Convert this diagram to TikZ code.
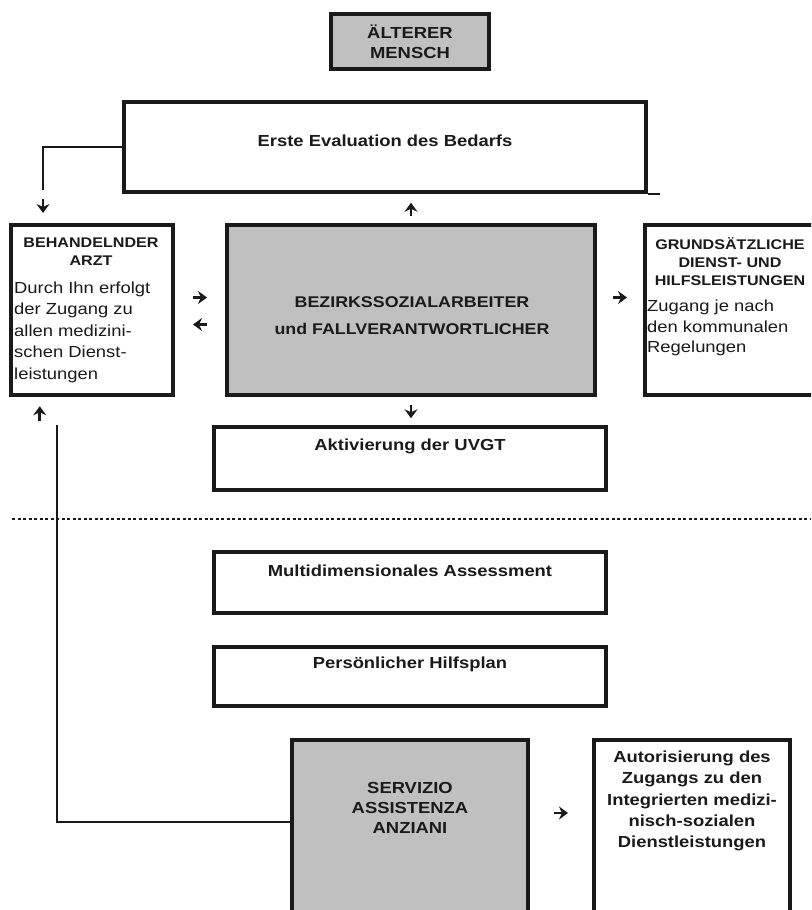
\documentclass[tikz,border=0pt]{standalone}
\usepackage{fontspec}
\setmainfont[FakeStretch=1.15]{Liberation Sans}
\usetikzlibrary{arrows.meta,calc}

\definecolor{boxgrey}{HTML}{C0C0C0}
\definecolor{ink}{HTML}{1A1A1A}

\tikzset{
  box/.style={draw=ink, line width=4.5pt, inner sep=0pt},
  shaded/.style={box, fill=boxgrey},
  head/.style={inner sep=0pt, align=center, text=ink, font=\bfseries\fontsize{16}{20}\selectfont},
  smallhead/.style={inner sep=0pt, align=center, text=ink, font=\bfseries\fontsize{14}{18}\selectfont},
  centrehead/.style={inner sep=0pt, align=center, text=ink, font=\bfseries\fontsize{15.5}{27}\selectfont},
  body/.style={inner sep=0pt, align=left, text=ink, font=\fontsize{16}{21.5}\selectfont},
  link/.style={draw=ink, line width=1.6pt},
  pointer/.style={draw=ink, line width=2.8pt, -{Stealth[length=9pt,width=13pt,inset=3pt]}},
  divider/.style={draw=ink, line width=1.3pt, dash pattern=on 3pt off 2.5pt}
}

\begin{document}
\begin{tikzpicture}[x=1pt,y=-1pt]
  \useasboundingbox (0,0) rectangle (811,910);
  \fill[white] (0,0) rectangle (811,910);
  \clip (0,0) rectangle (811,910);

  % --- upper part ---
  \node[shaded, minimum width=158pt, minimum height=55pt] (person) at (410,41.5) {};
  \node[head] (persontxt) at (person.center) {ÄLTERER\\MENSCH};

  \node[box, minimum width=522pt, minimum height=90pt] (eval) at (385,147) {};
  \node[head] (evaltxt) at (385,141) {Erste Evaluation des Bedarfs};

  \node[box, minimum width=162pt, minimum height=170pt] (arzt) at (92,310) {};
  \node[smallhead] (arzthead) at (91,251.5) {BEHANDELNDER\\ARZT};
  \node[body, anchor=west] (arztbody) at (14,332) {Durch Ihn erfolgt\\der Zugang zu\\allen medizini-\\schen Dienst-\\leistungen};

  \node[shaded, minimum width=368pt, minimum height=170pt] (bsa) at (411,310) {};
  \node[centrehead] (bsatxt) at (412,315.5) {BEZIRKSSOZIALARBEITER\\und FALLVERANTWORTLICHER};

  \node[box, minimum width=170pt, minimum height=170pt] (grund) at (730,310) {};
  \node[smallhead] (grundhead) at (730,262) {GRUNDSÄTZLICHE\\DIENST- UND\\HILFSLEISTUNGEN};
  \node[body, anchor=west, font=\fontsize{16}{20.5}\selectfont] (grundbody) at (647,328) {Zugang je nach\\den kommunalen\\Regelungen};

  \node[box, minimum width=392pt, minimum height=63pt] (uvgt) at (410,458.5) {};
  \node[head] (uvgttxt) at (410,446) {Aktivierung der UVGT};

  % --- dividing line ---
  \coordinate (divL) at (12,519);
  \coordinate (divR) at (811,519);
  \draw[divider] (divL) -- (divR);

  % --- lower part ---
  \node[box, minimum width=392pt, minimum height=61pt] (multi) at (410,582.5) {};
  \node[head] (multitxt) at (410,571) {Multidimensionales Assessment};

  \node[box, minimum width=392pt, minimum height=59pt] (plan) at (410,676.5) {};
  \node[head] (plantxt) at (410,664) {Persönlicher Hilfsplan};

  \node[shaded, minimum width=236pt, minimum height=190pt] (serv) at (410,835) {};
  \node[head] (servtxt) at (410,808) {SERVIZIO\\ASSISTENZA\\ANZIANI};

  \node[box, minimum width=196pt, minimum height=190pt] (auth) at (692,835) {};
  \node[head, font=\bfseries\fontsize{16}{21.3}\selectfont] (authtxt) at (692,801) {Autorisierung des\\Zugangs zu den\\Integrierten medizi-\\nisch-sozialen\\Dienstleistungen};

  % --- connectors ---
  \coordinate (evalfeed) at (43,190);
  \draw[link] (eval.west) -| (evalfeed);
  \draw[link] (eval.south east) -- ++(12,0);

  \coordinate (servfeed) at ($(serv.north west)+(0,84)$);
  \coordinate (arztfeed) at (57,425);
  \draw[link] (servfeed) -| (arztfeed);

  % --- small arrows ---
  \draw[pointer] (43,199) -- (43,213);
  \draw[pointer] ([yshift=7pt]bsa.north) -- ([yshift=20pt]bsa.north);
  \draw[pointer] ([yshift=-8pt]bsa.south) -- ([yshift=-21pt]bsa.south);
  \draw[pointer] ($(arzt.east)!0.5!(bsa.west)+(-7,-12.5)$) -- ++(14,0);
  \draw[pointer] ($(arzt.east)!0.5!(bsa.west)+(7,14.5)$) -- ++(-14,0);
  \draw[pointer] ($(bsa.east)!0.5!(grund.west)+(-7,-12.5)$) -- ++(14,0);
  \draw[pointer] ($(arzt.south west)+(31,24)$) -- ++(0,-15);
  \draw[pointer] ($(serv.east)!0.5!(auth.west)+(-7,-22)$) -- ++(14,0);
\end{tikzpicture}
\end{document}
